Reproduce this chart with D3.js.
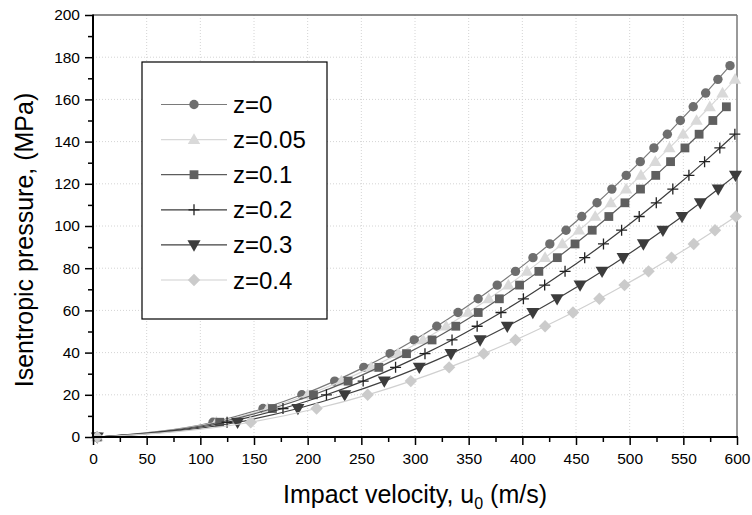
<!DOCTYPE html>
<html><head><meta charset="utf-8">
<script src="https://cdn.jsdelivr.net/npm/d3@7"></script>
<style>
body{margin:0;background:#fff;}
text{font-family:"Liberation Sans",Arial,sans-serif;fill:#000;}
</style></head>
<body><svg id="c" width="752" height="515"></svg>
<script>
// ---- data ----
const seriesNames = ["z=0","z=0.05","z=0.1","z=0.2","z=0.3","z=0.4"];
const pressureLevels = [0, 7.0, 13.5, 20.0, 26.5, 33.0, 39.5, 46.0, 52.5, 59.0, 65.5, 72.0, 78.5, 85.0, 91.5, 98.0, 104.5, 111.0, 117.5, 124.0, 130.5, 137.0, 143.5, 150.0, 156.5, 163.0, 169.5, 176.0];
const uZ0   = [4, 111.8, 158.4, 194.6, 225.2, 252.3, 276.8, 299.3, 320.3, 340.1, 358.8, 376.6, 393.6, 409.9, 425.6, 440.7, 455.4, 469.6, 483.4, 496.8, 509.9, 522.6, 535.1, 547.2, 559.2, 570.8, 582.2, 593.5];
const uZ005 = [4, 114.9, 162.8, 200.0, 231.4, 259.2, 284.4, 307.5, 329.1, 349.5, 368.7, 387.0, 404.4, 421.2, 437.3, 452.8, 467.9, 482.5, 496.7, 510.5, 523.9, 537.0, 549.8, 562.3, 574.6, 586.5, 598.2];
const uZ01  = [4, 118.0, 167.2, 205.4, 237.7, 266.3, 292.1, 315.9, 338.0, 358.9, 378.6, 397.4, 415.4, 432.6, 449.1, 465.1, 480.6, 495.6, 510.1, 524.3, 538.1, 551.5, 564.7, 577.5, 590.1];
const uZ02  = [4, 124.9, 177.0, 217.5, 251.7, 281.9, 309.3, 334.5, 357.9, 380.1, 401.0, 420.8, 439.8, 458.1, 475.6, 492.5, 508.9, 524.8, 540.2, 555.2, 569.8, 584.0, 598.0];
const uZ03  = [4, 134.7, 190.9, 234.5, 271.4, 304.0, 333.5, 360.7, 386.0, 409.8, 432.4, 453.8, 474.3, 493.9, 512.8, 531.0, 548.8, 565.9, 582.5, 598.6];
const uZ04  = [4, 147.0, 208.3, 255.9, 296.1, 331.8, 364.0, 393.6, 421.2, 447.2, 471.8, 495.2, 517.6, 539.0, 559.7, 579.5, 598.9];
const xTicks = [0,50,100,150,200,250,300,350,400,450,500,550,600];
const yTicks = [0,20,40,60,80,100,120,140,160,180,200];

// ---- styles ----
const styles = [
  {line:"#7a7a7a", fill:"#6e6e6e", shape:"circle"},
  {line:"#d8d8d8", fill:"#d9d9d9", shape:"triangle"},
  {line:"#5c5c5c", fill:"#5f5f5f", shape:"square"},
  {line:"#3c3c3c", fill:"#222222", shape:"plus"},
  {line:"#404040", fill:"#3c3c3c", shape:"tridown"},
  {line:"#d0d0d0", fill:"#cbcbcb", shape:"diamond"}
];
const uSeries = [uZ0,uZ005,uZ01,uZ02,uZ03,uZ04];
const series = uSeries.map((us,i)=>({name:seriesNames[i], pts: us.map((u,k)=>[u, pressureLevels[k]]), st:styles[i]}));

const svg = d3.select("#c");
const L=93, R=737, T=15, B=437;
const x = d3.scaleLinear().domain([0,600]).range([L,R]);
const y = d3.scaleLinear().domain([0,200]).range([B,T]);

// grid
const grid = svg.append("g");
grid.selectAll("line.gx").data(xTicks.filter(v=>v>0&&v<600)).enter().append("line")
  .attr("x1",d=>x(d)).attr("x2",d=>x(d)).attr("y1",T).attr("y2",B)
  .attr("stroke","#d4d4d4").attr("stroke-width",1).attr("stroke-dasharray","1,2");
grid.selectAll("line.gy").data(yTicks.filter(v=>v>0&&v<200)).enter().append("line")
  .attr("x1",L).attr("x2",R).attr("y1",d=>y(d)).attr("y2",d=>y(d))
  .attr("stroke","#d4d4d4").attr("stroke-width",1).attr("stroke-dasharray","1,2");

// frame top/right
svg.append("line").attr("x1",L).attr("x2",R).attr("y1",T).attr("y2",T).attr("stroke","#666").attr("stroke-width",1.5);
svg.append("line").attr("x1",R).attr("x2",R).attr("y1",T).attr("y2",B).attr("stroke","#777").attr("stroke-width",1.5);

// legend box
const lg = svg.append("g");
lg.append("rect").attr("x",142).attr("y",62).attr("width",185).attr("height",257)
  .attr("fill","#fff").attr("stroke","#000").attr("stroke-width",1.2);

// marker drawer
function marker(g, shape, fill){
  if(shape==="circle") g.append("circle").attr("r",4.7).attr("fill",fill);
  else if(shape==="triangle") g.append("path").attr("d",d3.symbol(d3.symbolTriangle,66)()).attr("fill",fill).attr("transform","translate(0,0.8)");
  else if(shape==="square") g.append("rect").attr("x",-4.4).attr("y",-4.4).attr("width",8.8).attr("height",8.8).attr("fill",fill);
  else if(shape==="plus") g.append("path").attr("d","M-5.5,0H5.5M0,-5.5V5.5").attr("stroke",fill).attr("stroke-width",1.3).attr("fill","none");
  else if(shape==="tridown") g.append("path").attr("d",d3.symbol(d3.symbolTriangle,74)()).attr("fill",fill).attr("transform","rotate(180) translate(0,0.8)");
  else if(shape==="diamond") g.append("path").attr("d","M0,-6.2L6.2,0L0,6.2L-6.2,0Z").attr("fill",fill);
}

// curves
const line = d3.line().x(d=>x(d[0])).y(d=>y(d[1])).curve(d3.curveMonotoneX);
series.forEach(s=>{
  const g = svg.append("g");
  g.append("path").attr("d",line(s.pts)).attr("fill","none").attr("stroke",s.st.line).attr("stroke-width",1.2);
  s.pts.forEach(p=>{
    const m = g.append("g").attr("transform",`translate(${x(p[0])},${y(p[1])})`);
    marker(m, s.st.shape, s.st.fill);
  });
});

// legend entries
const legY = d3.scaleLinear().domain([0,5]).range([104.5,280]);
series.forEach((s,i)=>{
  const yy = legY(i);
  lg.append("line").attr("x1",161).attr("x2",227).attr("y1",yy).attr("y2",yy).attr("stroke",s.st.line).attr("stroke-width",1.2);
  const m = lg.append("g").attr("transform",`translate(194,${yy})`);
  marker(m, s.st.shape, s.st.fill);
  lg.append("text").attr("x",233).attr("y",yy+8.5).attr("font-size",24).text(s.name);
});

// axes
const xAxis = d3.axisBottom(x).tickValues(xTicks).tickSize(8).tickPadding(8).tickFormat(d3.format("d"));
const xMinor = d3.axisBottom(x).tickValues(d3.range(25,600,50)).tickSize(5).tickFormat("");
const yAxis = d3.axisLeft(y).tickValues(yTicks).tickSize(8).tickPadding(5).tickFormat(d3.format("d"));
const yMinor = d3.axisLeft(y).tickValues(d3.range(10,200,20)).tickSize(5).tickFormat("");
function styleAx(g){
  g.select(".domain").remove();
  g.selectAll(".tick line").attr("stroke","#000").attr("stroke-width",1.5);
  g.selectAll(".tick text").attr("font-size",15.5).attr("fill","#000");
}
svg.append("g").attr("transform",`translate(0,${B})`).call(xMinor).call(styleAx);
svg.append("g").attr("transform",`translate(0,${B})`).call(xAxis).call(styleAx);
svg.append("g").attr("transform",`translate(${L},0)`).call(yMinor).call(styleAx);
svg.append("g").attr("transform",`translate(${L},0)`).call(yAxis).call(styleAx);
svg.selectAll("g text").attr("font-family","Liberation Sans, Arial, sans-serif");
// spines
svg.append("line").attr("x1",L).attr("x2",L).attr("y1",T-0.5).attr("y2",B+1).attr("stroke","#000").attr("stroke-width",2);
svg.append("line").attr("x1",L-1).attr("x2",R+1).attr("y1",B).attr("y2",B).attr("stroke","#000").attr("stroke-width",2);

// titles
const xt = svg.append("text").attr("x",(L+R)/2).attr("y",503).attr("text-anchor","middle").attr("font-size",25);
xt.append("tspan").text("Impact velocity, u");
xt.append("tspan").attr("font-size",16).attr("dy",6).text("0");
xt.append("tspan").attr("dy",-6).text(" (m/s)");
svg.append("text").attr("transform","translate(33,240) rotate(-90)").attr("text-anchor","middle").attr("font-size",25)
  .text("Isentropic pressure, (MPa)");
</script></body></html>
